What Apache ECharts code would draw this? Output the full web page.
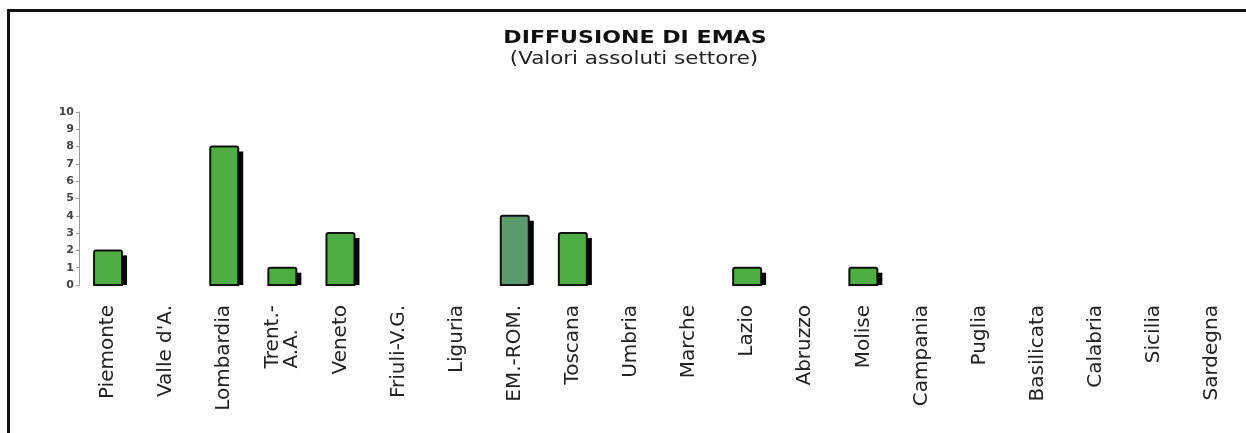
<!DOCTYPE html>
<html>
<head>
<meta charset="utf-8">
<script src="https://cdn.jsdelivr.net/npm/echarts@6/dist/echarts.min.js"></script>
<style>
  html, body { margin: 0; padding: 0; background: #fff; }
  #chart { width: 1246px; height: 433px; }
</style>
</head>
<body>
<div id="chart"></div>
<script>
// Regions (x axis) and number of EMAS registrations per region
const regions = ['Piemonte', "Valle d'A.", 'Lombardia', 'Trent.-\nA.A.', 'Veneto', 'Friuli-V.G.', 'Liguria',
  'EM.-ROM.', 'Toscana', 'Umbria', 'Marche', 'Lazio', 'Abruzzo', 'Molise', 'Campania', 'Puglia',
  'Basilicata', 'Calabria', 'Sicilia', 'Sardegna'];
const values = [2, 0, 8, 1, 3, 0, 0, 4, 3, 0, 0, 1, 0, 1, 0, 0, 0, 0, 0, 0];
const highlighted = ['EM.-ROM.'];
const yTicks = [0, 10, 1]; // min, max, interval
const titleText = 'DIFFUSIONE DI EMAS';
const subtitleText = '(Valori assoluti settore)';

const GREEN = '#4fae42';
const GREEN_DARK = '#5b9a6c';
const BAR_W = 28;
const SHADOW = 5;
const LABEL_FONT = 'DejaVu Sans';

const chart = echarts.init(document.getElementById('chart'), null, { renderer: 'canvas' });

chart.setOption({
  backgroundColor: '#ffffff',
  animation: false,
  graphic: [
    // frame: top and left edges
    { type: 'rect', shape: { x: 7, y: 9, width: 1246, height: 3 }, style: { fill: '#111' }, z: 100 },
    { type: 'rect', shape: { x: 7, y: 9, width: 3, height: 430 }, style: { fill: '#111' }, z: 100 },
    // heading, set in a widened face (scaled about its own anchor)
    { type: 'text', x: 635, y: 39, originX: 0, originY: 0, scaleX: 1.3,
      style: { text: titleText, font: 'bold 17px "DejaVu Sans"', fill: '#111',
               textAlign: 'center', textVerticalAlign: 'middle', verticalAlign: 'middle' } },
    { type: 'text', x: 634, y: 60, originX: 0, originY: 0, scaleX: 1.26,
      style: { text: subtitleText, font: '17px "DejaVu Sans"', fill: '#222',
               textAlign: 'center', textVerticalAlign: 'middle', verticalAlign: 'middle' } }
  ],
  grid: { left: 79, right: 5, top: 112, bottom: 148, containLabel: false },
  xAxis: {
    type: 'category',
    data: regions,
    axisLine: { show: false },
    axisTick: { show: false },
    axisLabel: {
      rotate: 90,
      interval: 0,
      margin: 20,
      align: 'right',
      verticalAlign: 'middle',
      formatter: function (v) {
        return v.split('\n').map(function (s) { return '{l|' + s + '}'; }).join('\n');
      },
      rich: {
        l: { align: 'left', fontFamily: LABEL_FONT, fontSize: 20, color: '#222', lineHeight: 19 }
      }
    }
  },
  yAxis: {
    type: 'value',
    min: yTicks[0],
    max: yTicks[1],
    interval: yTicks[2],
    splitLine: { show: false },
    axisLine: { show: true, lineStyle: { color: '#9a9a9a', width: 1 } },
    axisTick: { show: true, length: 3, lineStyle: { color: '#9a9a9a' } },
    axisLabel: { fontFamily: LABEL_FONT, fontSize: 11, fontWeight: 'bold', color: '#444', margin: 5 }
  },
  series: [{
    type: 'custom',
    data: values.map((v, i) => [i, v]),
    renderItem: function (params, api) {
      const v = api.value(1);
      if (!v) return null;
      const idx = api.value(0);
      const base = api.coord([idx, 0]);
      const top = api.coord([idx, v]);
      const x = top[0] - BAR_W / 2;
      const h = base[1] - top[1];
      const fill = highlighted.indexOf(regions[idx]) >= 0 ? GREEN_DARK : GREEN;
      return {
        type: 'group',
        children: [
          { type: 'rect', shape: { x: x + SHADOW, y: top[1] + SHADOW, width: BAR_W, height: h - SHADOW },
            style: { fill: '#000' } },
          { type: 'rect', shape: { x: x, y: top[1], width: BAR_W, height: h, r: [2, 2, 0, 0] },
            style: { fill: fill, stroke: '#111', lineWidth: 2 } }
        ]
      };
    }
  }]
});
</script>
</body>
</html>
